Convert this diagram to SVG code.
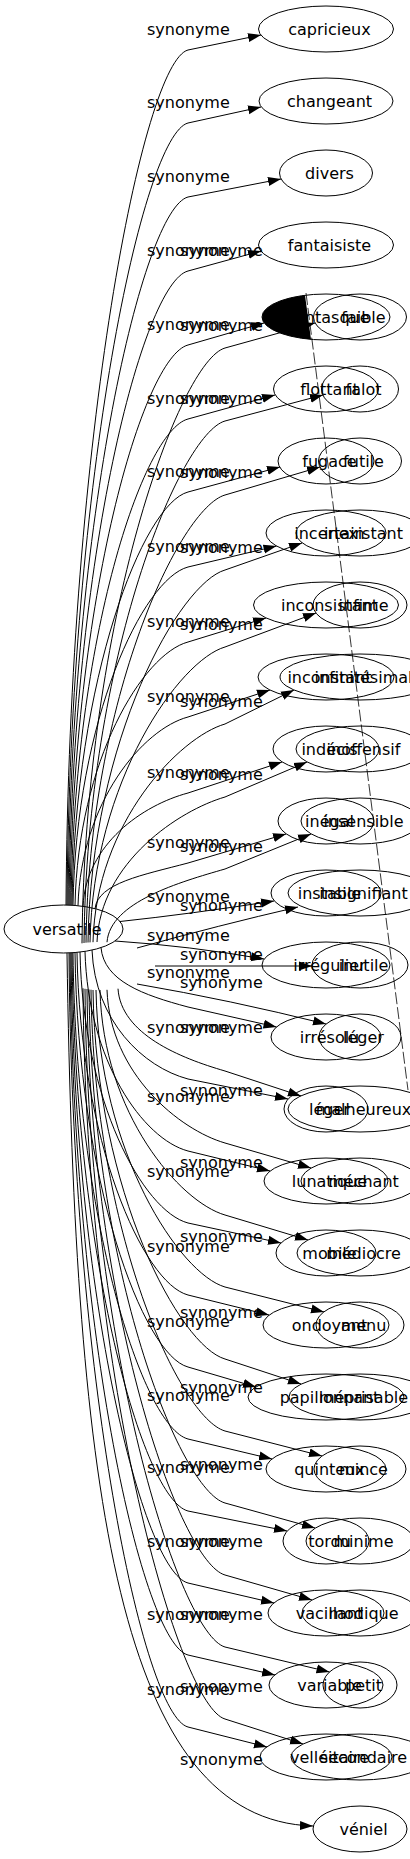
<svg xmlns="http://www.w3.org/2000/svg" width="410" height="1859" viewBox="0 0 410 1859">
<style>
text{font-family:"DejaVu Sans",sans-serif;font-size:16px;fill:#000}
.n ellipse{fill:none;stroke:#000;stroke-width:1}
.n text{text-anchor:middle}
#edges path{fill:none;stroke:#000;stroke-width:1;marker-end:url(#ah)}
</style>
<defs><marker id="ah" markerWidth="13" markerHeight="10" refX="13" refY="5" orient="auto" markerUnits="userSpaceOnUse"><path d="M0,0.5 L13,5 L0,9.5 z" fill="#000"/></marker></defs>
<rect width="410" height="1859" fill="#fff"/>
<g id="edges">
<path d="M66,905 C69,435 143,62 188,50 L261,35"/>
<path d="M67,905 C70,475 143,135 188,123 L261,107"/>
<path d="M68,905 C71,516 143,209 188,197 L281,179"/>
<path d="M69,905 C72,556 143,283 188,271 L261,251"/>
<path d="M70,905 C73,597 143,357 188,345 L264,323"/>
<path d="M71,905 C74,638 143,431 188,419 L275,395"/>
<path d="M72,905 C75,678 143,504 188,492 L280,467"/>
<path d="M73,905 C76,719 143,579 188,567 L276.5,546"/>
<path d="M75,905.5 C78,760 143,654 188,642 L266,618"/>
<path d="M78,905.7 C81,802 143,729 188,717 L270,690"/>
<path d="M83,906.3 C86,844 143,805 188,793 L282,762"/>
<path d="M95,908.6 C98,883 143,875 188,863 L286,834"/>
<path d="M120,921.5 Q190,914 274,901"/>
<path d="M115,941 Q190,946 264,959"/>
<path d="M101,947.6 C104,981 143,995 188,1007 L276.5,1027"/>
<path d="M92,950 C95,1021 143,1067 188,1079 L288,1099"/>
<path d="M85,951.4 C88,1061 143,1139 188,1151 L270,1171"/>
<path d="M80,952 C83,1101 143,1211 188,1223 L281,1243"/>
<path d="M77,952.5 C80,1141 143,1283 188,1295 L269,1315"/>
<path d="M75,952.5 C78,1181 143,1355 188,1367 L256,1387"/>
<path d="M73,953 C76,1220 143,1427 188,1439 L272,1459"/>
<path d="M72,953 C75,1260 143,1499 188,1511 L287,1531"/>
<path d="M71,953 C74,1300 143,1571 188,1583 L274,1603"/>
<path d="M70,953 C73,1339 143,1643 188,1655 L275,1675"/>
<path d="M69,953 C72,1379 143,1715 188,1727 L267,1747"/>
<path d="M67,953 C75,1500 120,1820 313,1826"/>
<path d="M82,943.3 C85,616 180,361 225,348 L315,323"/>
<path d="M84,943 C87,656 180,434 225,421 L323,395"/>
<path d="M86,942.7 C89,697 180,508 225,495 L320,467"/>
<path d="M88,942.5 C91,738 180,583 225,570 L302,543"/>
<path d="M90,942.4 C93,780 180,660 225,647 L316,613"/>
<path d="M93,942.2 C96,822 180,737 225,724 L294,690"/>
<path d="M97,942 C100,862 180,810 225,797 L307,762"/>
<path d="M107,942.2 C110,902 180,882 225,869 L311,834"/>
<path d="M137,948 Q220,925 298,907"/>
<path d="M155,966 L312,966"/>
<path d="M137,984 Q230,1000 326,1024"/>
<path d="M118,988.7 C121,1034 180,1058 225,1071 L301,1096"/>
<path d="M107,989.8 C110,1074 180,1130 225,1143 L311,1168"/>
<path d="M100,990 C103,1114 180,1202 225,1215 L308,1240"/>
<path d="M96,990 C99,1153 180,1274 225,1287 L324,1312"/>
<path d="M93,990 C96,1193 180,1346 225,1359 L301,1384"/>
<path d="M91,989.7 C94,1233 180,1418 225,1431 L322,1456"/>
<path d="M89,989.5 C92,1272 180,1490 225,1503 L315,1528"/>
<path d="M87,989 C90,1311 180,1562 225,1575 L312,1600"/>
<path d="M85,988.8 C88,1351 180,1634 225,1647 L329.5,1672"/>
<path d="M83,988.3 C86,1390 180,1706 225,1719 L303,1744"/>
<g id="labels-a">
<text x="147" y="35">synonyme</text><text x="147" y="108">synonyme</text><text x="147" y="182">synonyme</text><text x="147" y="256">synonyme</text><text x="147" y="330">synonyme</text><text x="147" y="404">synonyme</text><text x="147" y="477">synonyme</text><text x="147" y="552">synonyme</text><text x="147" y="627">synonyme</text><text x="147" y="702">synonyme</text><text x="147" y="778">synonyme</text><text x="147" y="848">synonyme</text><text x="147" y="902">synonyme</text><text x="147" y="941">synonyme</text><text x="147" y="978">synonyme</text><text x="147" y="1033">synonyme</text><text x="147" y="1102">synonyme</text><text x="147" y="1177">synonyme</text><text x="147" y="1252">synonyme</text><text x="147" y="1327">synonyme</text><text x="147" y="1401">synonyme</text><text x="147" y="1473">synonyme</text><text x="147" y="1547">synonyme</text><text x="147" y="1620">synonyme</text><text x="147" y="1695">synonyme</text>
</g>
<g id="labels-b">
<text x="180" y="256">synonyme</text><text x="180" y="331">synonyme</text><text x="180" y="404">synonyme</text><text x="180" y="478">synonyme</text><text x="180" y="553">synonyme</text><text x="180" y="630">synonyme</text><text x="180" y="707">synonyme</text><text x="180" y="780">synonyme</text><text x="180" y="852">synonyme</text><text x="180" y="911">synonyme</text><text x="180" y="960">synonyme</text><text x="180" y="988">synonyme</text><text x="180" y="1033">synonyme</text><text x="180" y="1096">synonyme</text><text x="180" y="1168">synonyme</text><text x="180" y="1242">synonyme</text><text x="180" y="1318">synonyme</text><text x="180" y="1393">synonyme</text><text x="180" y="1470">synonyme</text><text x="180" y="1547">synonyme</text><text x="180" y="1620">synonyme</text><text x="180" y="1692">synonyme</text><text x="180" y="1765">synonyme</text>
</g>
</g>
<g id="versatile" class="n"><ellipse cx="63.5" cy="929" rx="59.5" ry="24"/><text x="67" y="935">versatile</text></g>
<g id="a_capricieux" class="n"><ellipse cx="326" cy="29" rx="67.5" ry="23"/><text x="329.5" y="35">capricieux</text></g>
<g id="a_changeant" class="n"><ellipse cx="326" cy="101" rx="67" ry="23"/><text x="329.5" y="107">changeant</text></g>
<g id="a_divers" class="n"><ellipse cx="326" cy="173" rx="46.5" ry="23"/><text x="329.5" y="179">divers</text></g>
<g id="a_fantaisiste" class="n"><ellipse cx="326" cy="245" rx="67.5" ry="23"/><text x="329.5" y="251">fantaisiste</text></g>
<g id="a_fantasque" class="n"><ellipse cx="326" cy="317" rx="64" ry="23"/><path d="M305,295.3 A64,23 0 0 0 311,339.4 Z" fill="#000"/><text x="329.5" y="323">fantasque</text></g>
<g id="a_flottant" class="n"><ellipse cx="326" cy="389" rx="52.5" ry="23"/><text x="329.5" y="395">flottant</text></g>
<g id="a_fugace" class="n"><ellipse cx="326" cy="461" rx="48" ry="23"/><text x="329.5" y="467">fugace</text></g>
<g id="a_incertain" class="n"><ellipse cx="326" cy="533" rx="60" ry="23"/><text x="329.5" y="539">incertain</text></g>
<g id="a_inconsistant" class="n"><ellipse cx="326" cy="605" rx="72.5" ry="23"/><text x="329.5" y="611">inconsistant</text></g>
<g id="a_inconstant" class="n"><ellipse cx="326" cy="677" rx="68" ry="23"/><text x="329.5" y="683">inconstant</text></g>
<g id="a_indecis" class="n"><ellipse cx="326" cy="749" rx="53" ry="23"/><text x="329.5" y="755">indécis</text></g>
<g id="a_inegal" class="n"><ellipse cx="326" cy="821" rx="48" ry="23"/><text x="329.5" y="827">inégal</text></g>
<g id="a_instable" class="n"><ellipse cx="326" cy="893" rx="55" ry="23"/><text x="329.5" y="899">instable</text></g>
<g id="a_irregulier" class="n"><ellipse cx="326" cy="965" rx="64" ry="23"/><text x="329.5" y="971">irrégulier</text></g>
<g id="a_irresolu" class="n"><ellipse cx="326" cy="1037" rx="55" ry="23"/><text x="329.5" y="1043">irrésolu</text></g>
<g id="a_leger" class="n"><ellipse cx="326" cy="1109" rx="42" ry="23"/><text x="329.5" y="1115">léger</text></g>
<g id="a_lunatique" class="n"><ellipse cx="326" cy="1181" rx="62" ry="23"/><text x="329.5" y="1187">lunatique</text></g>
<g id="a_mobile" class="n"><ellipse cx="326" cy="1253" rx="50" ry="23"/><text x="329.5" y="1259">mobile</text></g>
<g id="a_ondoyant" class="n"><ellipse cx="326" cy="1325" rx="63" ry="23"/><text x="329.5" y="1331">ondoyant</text></g>
<g id="a_papillonnant" class="n"><ellipse cx="326" cy="1397" rx="78" ry="23"/><text x="329.5" y="1403">papillonnant</text></g>
<g id="a_quinteux" class="n"><ellipse cx="326" cy="1469" rx="60" ry="23"/><text x="329.5" y="1475">quinteux</text></g>
<g id="a_tordu" class="n"><ellipse cx="326" cy="1541" rx="43" ry="23"/><text x="329.5" y="1547">tordu</text></g>
<g id="a_vacillant" class="n"><ellipse cx="326" cy="1613" rx="58" ry="23"/><text x="329.5" y="1619">vacillant</text></g>
<g id="a_variable" class="n"><ellipse cx="326" cy="1685" rx="57" ry="23"/><text x="329.5" y="1691">variable</text></g>
<g id="a_velleitaire" class="n"><ellipse cx="326" cy="1757" rx="66" ry="23"/><text x="329.5" y="1763">velléitaire</text></g>
<g id="a_veniel" class="n"><ellipse cx="360" cy="1829" rx="47" ry="23"/><text x="363.5" y="1835">véniel</text></g>
<g id="b_faible" class="n"><ellipse cx="360" cy="317" rx="46.5" ry="23"/><text x="363.5" y="323">faible</text></g>
<g id="b_falot" class="n"><ellipse cx="360" cy="389" rx="38.5" ry="23"/><text x="363.5" y="395">falot</text></g>
<g id="b_futile" class="n"><ellipse cx="360" cy="461" rx="41.5" ry="23"/><text x="363.5" y="467">futile</text></g>
<g id="b_inexistant" class="n"><ellipse cx="360" cy="533" rx="64" ry="23"/><text x="363.5" y="539">inexistant</text></g>
<g id="b_infime" class="n"><ellipse cx="360" cy="605" rx="47" ry="23"/><text x="363.5" y="611">infime</text></g>
<g id="b_infinitesimal" class="n"><ellipse cx="360" cy="677" rx="80" ry="23"/><text x="363.5" y="683">infinitésimal</text></g>
<g id="b_inoffensif" class="n"><ellipse cx="360" cy="749" rx="64" ry="23"/><text x="363.5" y="755">inoffensif</text></g>
<g id="b_insensible" class="n"><ellipse cx="360" cy="821" rx="59" ry="23"/><text x="363.5" y="827">insensible</text></g>
<g id="b_insignifiant" class="n"><ellipse cx="360" cy="893" rx="72" ry="23"/><text x="363.5" y="899">insignifiant</text></g>
<g id="b_inutile" class="n"><ellipse cx="360" cy="965" rx="48" ry="23"/><text x="363.5" y="971">inutile</text></g>
<g id="b_leger" class="n"><ellipse cx="360" cy="1037" rx="41" ry="23"/><text x="363.5" y="1043">léger</text></g>
<g id="b_malheureux" class="n"><ellipse cx="360" cy="1109" rx="72" ry="23"/><text x="363.5" y="1115">malheureux</text></g>
<g id="b_mechant" class="n"><ellipse cx="360" cy="1181" rx="59" ry="23"/><text x="363.5" y="1187">méchant</text></g>
<g id="b_mediocre" class="n"><ellipse cx="360" cy="1253" rx="63" ry="23"/><text x="363.5" y="1259">médiocre</text></g>
<g id="b_menu" class="n"><ellipse cx="360" cy="1325" rx="44" ry="23"/><text x="363.5" y="1331">menu</text></g>
<g id="b_meprisable" class="n"><ellipse cx="360" cy="1397" rx="71" ry="23"/><text x="363.5" y="1403">méprisable</text></g>
<g id="b_mince" class="n"><ellipse cx="360" cy="1469" rx="46" ry="23"/><text x="363.5" y="1475">mince</text></g>
<g id="b_minime" class="n"><ellipse cx="360" cy="1541" rx="54" ry="23"/><text x="363.5" y="1547">minime</text></g>
<g id="b_modique" class="n"><ellipse cx="360" cy="1613" rx="58" ry="23"/><text x="363.5" y="1619">modique</text></g>
<g id="b_petit" class="n"><ellipse cx="360" cy="1685" rx="37" ry="23"/><text x="363.5" y="1691">petit</text></g>
<g id="b_secondaire" class="n"><ellipse cx="360" cy="1757" rx="69" ry="23"/><text x="363.5" y="1763">secondaire</text></g>
<g id="dashed-link"><line x1="306" y1="293" x2="408" y2="1090" stroke="#000" stroke-width="0.8" stroke-dasharray="12,3"/></g>
</svg>
